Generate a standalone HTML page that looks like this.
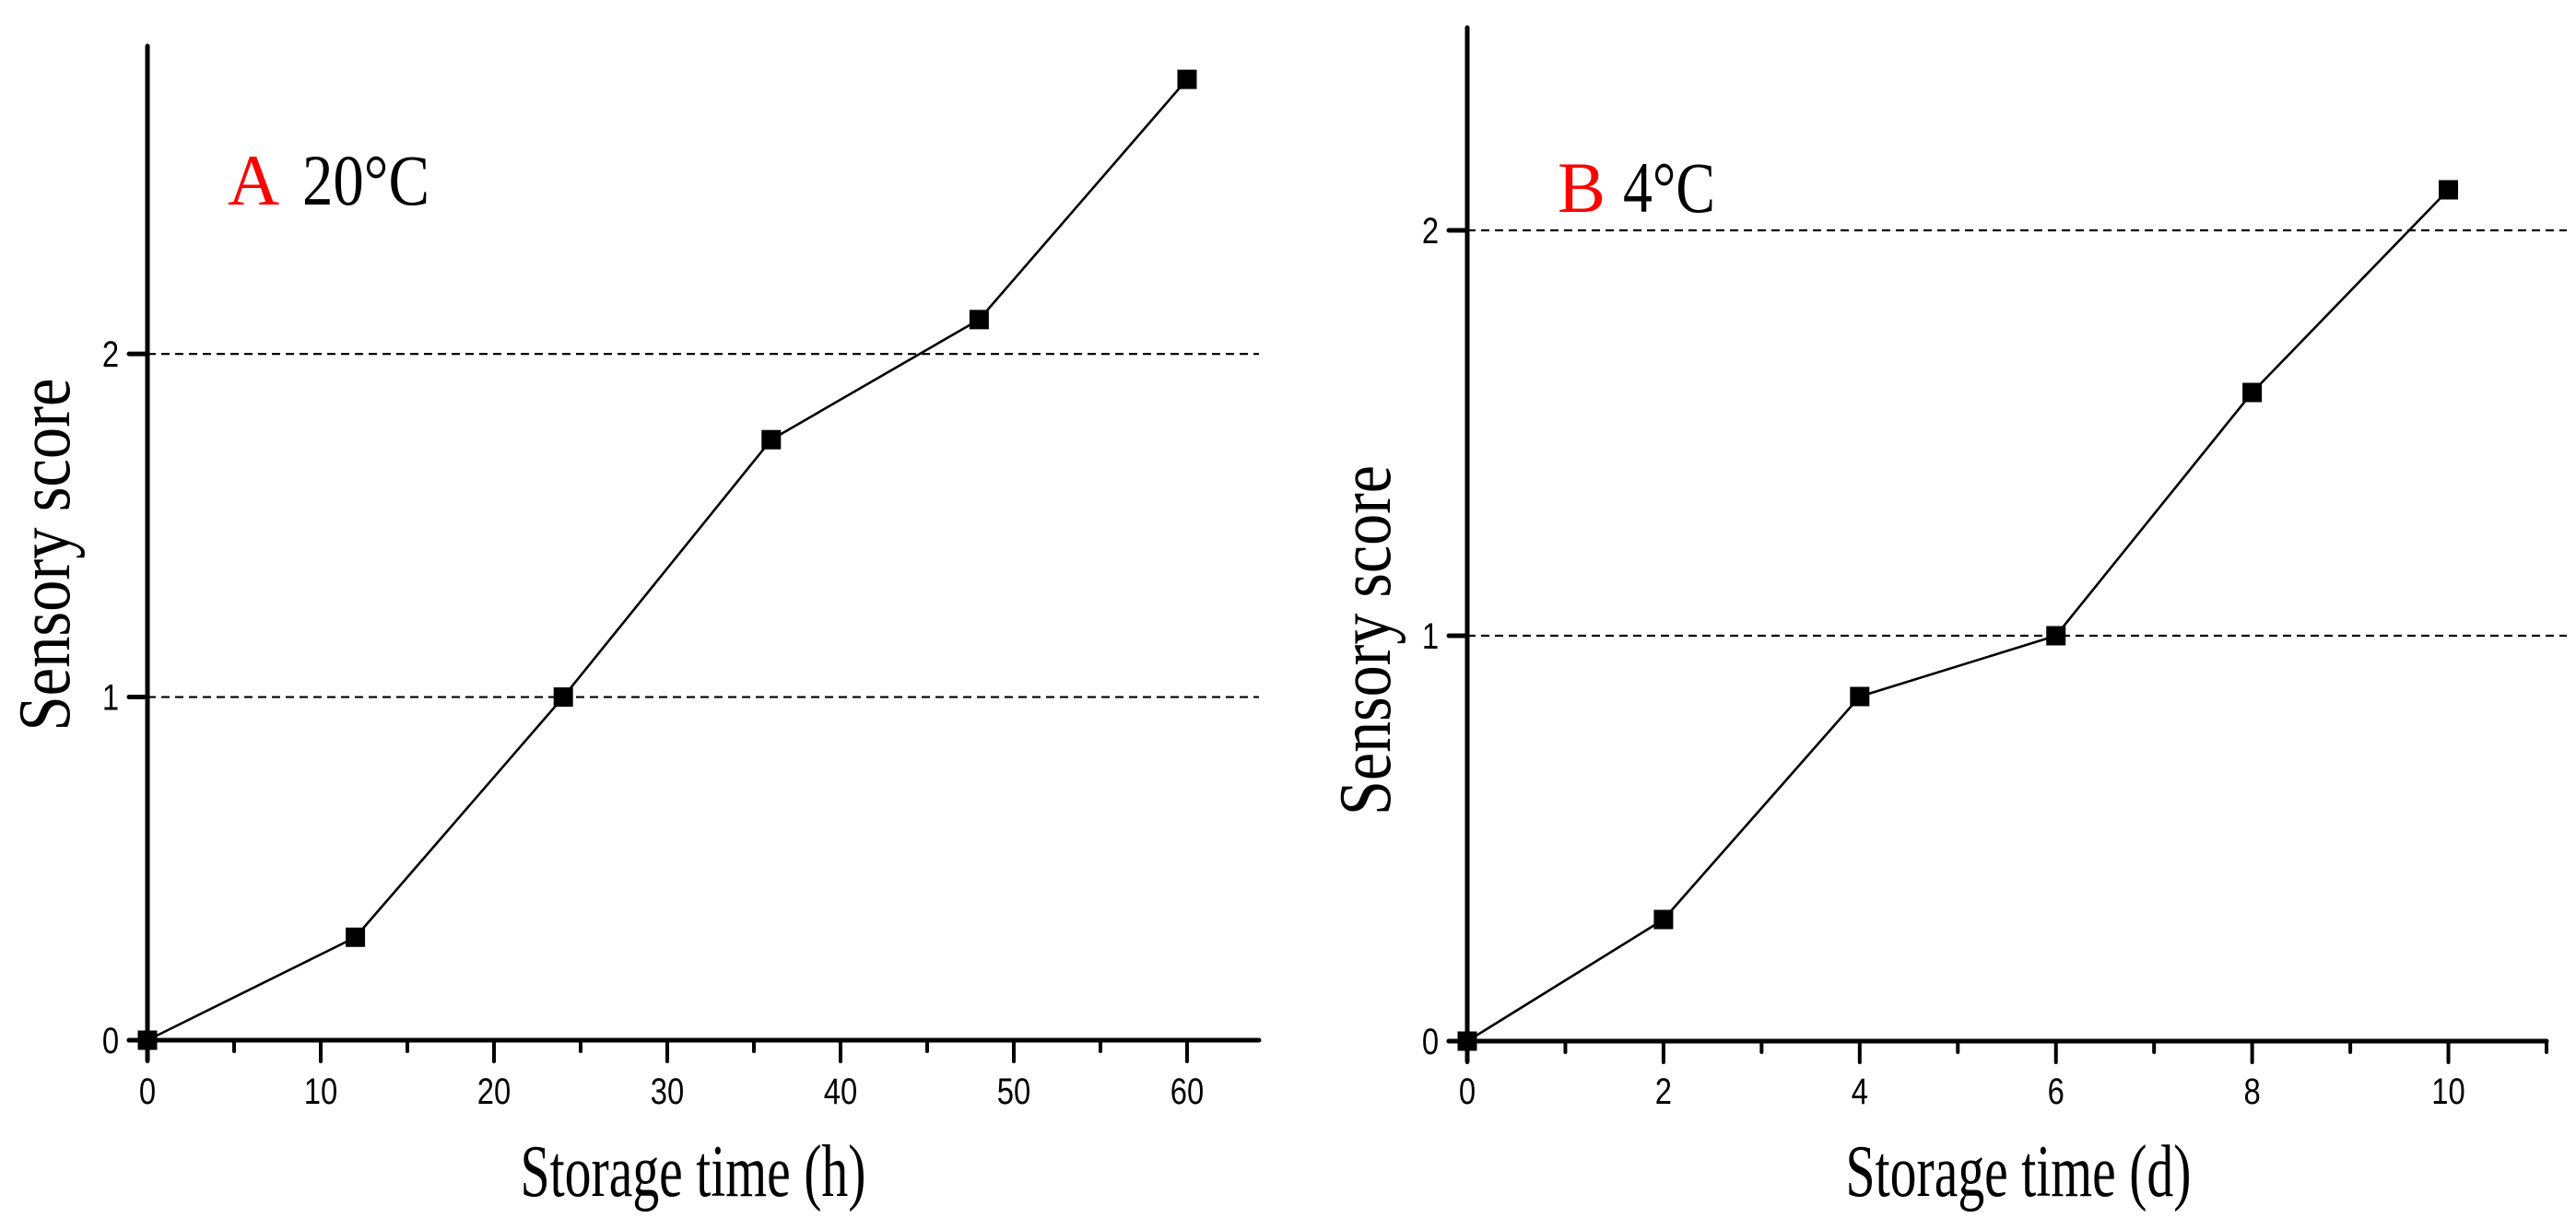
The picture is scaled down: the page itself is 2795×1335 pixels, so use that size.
<!DOCTYPE html>
<html><head><meta charset="utf-8"><style>
html,body{margin:0;padding:0;background:#fff;}
svg{display:block;}
.tick{font-family:"Liberation Sans",sans-serif;font-size:40px;fill:#000;}
.ser{font-family:"Liberation Serif",serif;fill:#000;}
</style></head><body>
<svg id="chart" width="2795" height="1335" viewBox="0 0 2795 1335" xmlns="http://www.w3.org/2000/svg">
<g id="panelA"></g>
<g id="panelB"></g>
</svg>
<script>
// Panel A (20°C)
const timesA = [0, 12, 24, 36, 48, 60];
const scoresA = [0, 0.3, 1.0, 1.75, 2.1, 2.8];
const xTicksA = [0, 10, 20, 30, 40, 50, 60];
const xMinorA = [5, 15, 25, 35, 45, 55];
const yTicksA = [0, 1, 2];
const refLinesA = [1, 2];
// Panel B (4°C)
const timesB = [0, 2, 4, 6, 8, 10];
const scoresB = [0, 0.3, 0.85, 1.0, 1.6, 2.1];
const xTicksB = [0, 2, 4, 6, 8, 10];
const xMinorB = [1, 3, 5, 7, 9, 11];
const yTicksB = [0, 1, 2];
const refLinesB = [1, 2];

const NS = "http://www.w3.org/2000/svg";
function mk(parent, tag, attrs, text) {
  const e = document.createElementNS(NS, tag);
  for (const k in attrs) e.setAttribute(k, attrs[k]);
  if (text !== undefined) e.textContent = text;
  parent.appendChild(e);
  return e;
}

function panel(g, cfg) {
  const sx = v => cfg.x0 + (v - cfg.xmin) / (cfg.xmax - cfg.xmin) * (cfg.x1 - cfg.x0);
  const sy = v => cfg.y0 - (v - cfg.ymin) / (cfg.ymax - cfg.ymin) * (cfg.y0 - cfg.y1);
  cfg.ref.forEach(r => {
    const l = mk(g, "line", {x1: sx(cfg.xmin), x2: cfg.refEnd, y1: sy(r), y2: sy(r), stroke: "#000", "stroke-width": 2.2, "stroke-dasharray": "9,6"});
    
    
  });
  const ya = mk(g, "line", {x1: sx(cfg.xmin), x2: sx(cfg.xmin), y1: sy(cfg.ymin) + 22, y2: cfg.y1, stroke: "#000", "stroke-width": 5, "stroke-linecap": "round"});
  
  
  const xa = mk(g, "line", {x1: sx(cfg.xmin) - 20, x2: sx(cfg.xmax), y1: sy(cfg.ymin), y2: sy(cfg.ymin), stroke: "#000", "stroke-width": 5, "stroke-linecap": "round"});
  
  
  cfg.xt.forEach(t => {
    const tk = mk(g, "line", {x1: sx(t), x2: sx(t), y1: sy(cfg.ymin), y2: sy(cfg.ymin) + 23, stroke: "#000", "stroke-width": 4, "stroke-linecap": "round"});
    
    
    const lb = mk(g, "text", {x: sx(t), y: 1198, "text-anchor": "middle", class: "tick", transform: `translate(${sx(t)},0) scale(0.82,1) translate(${-sx(t)},0)`}, String(t));
    
    
  });
  cfg.xm.forEach(t => {
    const tk = mk(g, "line", {x1: sx(t), x2: sx(t), y1: sy(cfg.ymin), y2: sy(cfg.ymin) + 12, stroke: "#000", "stroke-width": 4, "stroke-linecap": "round"});
    
    
  });
  cfg.yt.forEach(t => {
    const tk = mk(g, "line", {x1: sx(cfg.xmin) - 20, x2: sx(cfg.xmin), y1: sy(t), y2: sy(t), stroke: "#000", "stroke-width": 5, "stroke-linecap": "round"});
    
    
    const lx = sx(cfg.xmin) - 40;
    const lb = mk(g, "text", {x: lx, y: sy(t) + 14, "text-anchor": "middle", class: "tick", transform: `translate(${lx},0) scale(0.82,1) translate(${-lx},0)`}, String(t));
    
    
  });
  const pts = cfg.xs.map((x, i) => sx(x) + "," + sy(cfg.ys[i])).join(" ");
  const pl = mk(g, "polyline", {points: pts, fill: "none", stroke: "#000", "stroke-width": 2.6});
  
  
  cfg.xs.forEach((x, i) => {
    const m = mk(g, "rect", {x: sx(x) - 10.5, y: sy(cfg.ys[i]) - 10.5, width: 21, height: 21, fill: "#000"});
    
    
  });
  const xt = mk(g, "text", {x: cfg.xtx, y: 1298, "text-anchor": "middle", class: "ser", "font-size": 80, textLength: 375, lengthAdjust: "spacingAndGlyphs"}, cfg.xtitle);
  
  
  const yt = mk(g, "text", {x: 0, y: 0, "text-anchor": "middle", class: "ser", "font-size": 80, textLength: cfg.ylen, lengthAdjust: "spacingAndGlyphs", transform: `translate(${cfg.ytx},${cfg.yty}) rotate(-90)`}, "Sensory score");
  
  
  const pa = mk(g, "text", {x: cfg.lx, y: cfg.ly, class: "ser", "font-size": 78, style: "fill:#ff0000"}, cfg.letter);
  
  
  const pt = mk(g, "text", {x: cfg.tx, y: cfg.ly, class: "ser", "font-size": 78, textLength: cfg.tlen, lengthAdjust: "spacingAndGlyphs"}, cfg.temp);
  
  
}

panel(document.getElementById("panelA"), {
  x0: 160, x1: 1366, xmin: 0, xmax: 64.15, y0: 1129, y1: 50, ymin: 0, ymax: 2.897,
  xs: timesA, ys: scoresA, xt: xTicksA, xm: xMinorA, yt: yTicksA, ref: refLinesA, refEnd: 1366,
  xtitle: "Storage time (h)", xtx: 752, ytx: 75, yty: 602, ylen: 383,
  letter: "A", temp: "20°C", lx: 247, tx: 328, ly: 222, tlen: 138
});
panel(document.getElementById("panelB"), {
  x0: 1592, x1: 2763, xmin: 0, xmax: 11, y0: 1130, y1: 30, ymin: 0, ymax: 2.5,
  xs: timesB, ys: scoresB, xt: xTicksB, xm: xMinorB, yt: yTicksB, ref: refLinesB, refEnd: 2785,
  xtitle: "Storage time (d)", xtx: 2190, ytx: 1508, yty: 695, ylen: 380,
  letter: "B", temp: "4°C", lx: 1690, tx: 1761, ly: 230, tlen: 100
});
</script>
</body></html>
